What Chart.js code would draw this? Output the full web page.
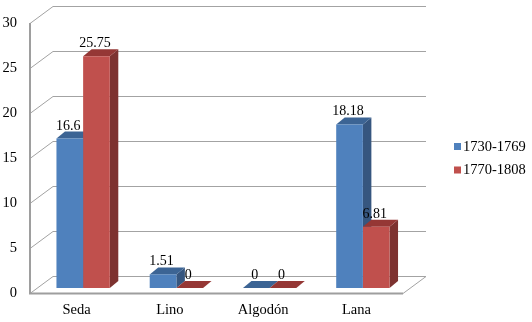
<!DOCTYPE html>
<html>
<head>
<meta charset="utf-8">
<script src="https://cdn.jsdelivr.net/npm/chart.js@4/dist/chart.umd.min.js"></script>
<style>
html,body{margin:0;padding:0;background:#fff;}
canvas{display:block;}
</style>
</head>
<body>
<canvas id="c" width="532" height="322"></canvas>
<script>
const categories = ['Seda', 'Lino', 'Algodón', 'Lana'];
const serie1730 = [16.6, 1.51, 0, 18.18];
const serie1770 = [25.75, 0, 0, 6.81];
const seriesLabels = ['1730-1769', '1770-1808'];
const yMin = 0, yMax = 30, yStep = 5;

const FONT = '"Liberation Serif", "Times New Roman", serif';
const frontColors = ['#4F81BD', '#C0504D'];
const topColors = ['#3C6494', '#953735'];
const sideColors = ['#36567F', '#7D3230'];

// 3D geometry (frame depth, bar plane offset, bar depth)
const DX = 23, DY = -17;
const BX = 6.5, BY = -5;
const BDX = 8.5, BDY = -7;
const GRID = '#A3A3A3';

const bar3d = {
  id: 'bar3d',
  beforeDraw(chart) {
    const ctx = chart.ctx;
    ctx.save();
    ctx.fillStyle = '#fff';
    ctx.fillRect(0, 0, chart.width, chart.height);
    ctx.restore();
  },
  beforeDatasetsDraw(chart) {
    const ctx = chart.ctx;
    const a = chart.chartArea;
    const ys = chart.scales.y;
    const L = a.left, R = a.right;
    ctx.save();
    ctx.strokeStyle = GRID;
    ctx.lineWidth = 1;
    ys.ticks.forEach(t => {
      const yF = Math.round(ys.getPixelForValue(t.value)) + 0.5;
      ctx.beginPath();
      ctx.moveTo(L, yF);
      ctx.lineTo(L + DX, yF + DY);
      ctx.lineTo(R + DX, yF + DY);
      ctx.stroke();
    });
    const y0 = Math.round(ys.getPixelForValue(0)) + 0.5;
    ctx.beginPath();
    ctx.moveTo(R, y0);
    ctx.lineTo(R + DX, y0 + DY);
    ctx.stroke();
    ctx.lineWidth = 2;
    ctx.strokeStyle = '#9E9E9E';
    ctx.beginPath();
    ctx.moveTo(L, Math.round(ys.getPixelForValue(yMax)));
    ctx.lineTo(L, y0);
    ctx.lineTo(R, y0);
    ctx.stroke();
    ctx.restore();

    ctx.save();
    ctx.translate(BX, BY);
    chart.data.datasets.forEach((ds, di) => {
      const meta = chart.getDatasetMeta(di);
      meta.data.forEach(el => {
        const p = el.getProps(['x', 'y', 'base', 'width'], true);
        const x0 = p.x - p.width / 2, x1 = p.x + p.width / 2;
        const yt = Math.min(p.y, p.base), yb = Math.max(p.y, p.base);
        ctx.fillStyle = sideColors[di];
        ctx.beginPath();
        ctx.moveTo(x1, yt);
        ctx.lineTo(x1 + BDX, yt + BDY);
        ctx.lineTo(x1 + BDX, yb + BDY);
        ctx.lineTo(x1, yb);
        ctx.closePath();
        ctx.fill();
        ctx.fillStyle = topColors[di];
        ctx.beginPath();
        ctx.moveTo(x0, yt);
        ctx.lineTo(x1, yt);
        ctx.lineTo(x1 + BDX, yt + BDY);
        ctx.lineTo(x0 + BDX, yt + BDY);
        ctx.closePath();
        ctx.fill();
      });
    });
  },
  afterDatasetsDraw(chart) {
    const ctx = chart.ctx;
    ctx.restore();
    ctx.save();
    ctx.font = '14px ' + FONT;
    ctx.fillStyle = '#000';
    ctx.textAlign = 'center';
    ctx.textBaseline = 'alphabetic';
    chart.data.datasets.forEach((ds, di) => {
      const meta = chart.getDatasetMeta(di);
      meta.data.forEach((el, i) => {
        const p = el.getProps(['x', 'y', 'base'], true);
        const yt = Math.min(p.y, p.base);
        ctx.fillText(String(ds.data[i]), p.x + BX - 1.5, yt + BY + BDY - 2);
      });
    });
    ctx.textAlign = 'left';
    ctx.textBaseline = 'middle';
    ctx.font = '14.5px ' + FONT;
    const lx = 454, ly = [146.5, 170];
    chart.data.datasets.forEach((ds, di) => {
      ctx.fillStyle = frontColors[di];
      ctx.fillRect(lx, ly[di] - 3.5, 7, 7);
      ctx.fillStyle = '#000';
      ctx.fillText(ds.label, lx + 9, ly[di] + 0.5);
    });
    ctx.restore();
  }
};

new Chart(document.getElementById('c'), {
  type: 'bar',
  data: {
    labels: categories,
    datasets: [
      { label: seriesLabels[0], data: serie1730, backgroundColor: frontColors[0], borderWidth: 0, clip: false },
      { label: seriesLabels[1], data: serie1770, backgroundColor: frontColors[1], borderWidth: 0, clip: false }
    ]
  },
  options: {
    responsive: false,
    animation: false,
    devicePixelRatio: 1,
    datasets: { bar: { categoryPercentage: 0.572, barPercentage: 1 } },
    layout: { padding: { top: 23, right: 129, bottom: 0, left: 0 } },
    plugins: { legend: { display: false }, tooltip: { enabled: false } },
    scales: {
      x: {
        grid: { display: false, drawTicks: false },
        border: { display: false },
        ticks: { color: '#000', font: { family: FONT, size: 14.5 }, padding: 8 },
        afterFit(axis) { axis.height = 29; }
      },
      y: {
        min: yMin, max: yMax,
        grid: { display: false, drawTicks: false },
        border: { display: false },
        ticks: { stepSize: yStep, color: '#000', font: { family: FONT, size: 14.5 }, padding: 13 },
        afterFit(axis) { axis.width = 30; }
      }
    }
  },
  plugins: [bar3d]
});
</script>
</body>
</html>
